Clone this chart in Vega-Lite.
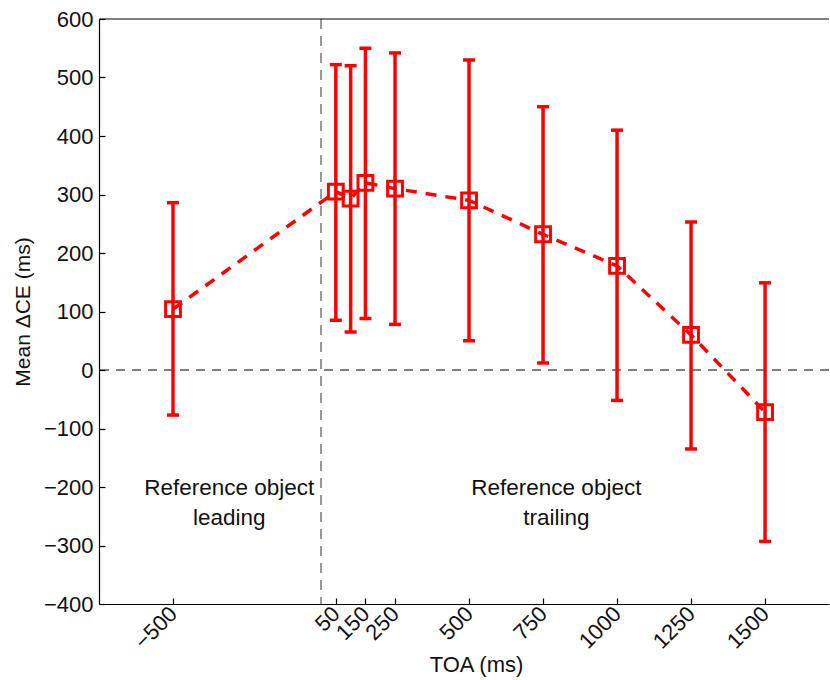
{
  "$schema": "https://vega.github.io/schema/vega-lite/v6.json",
  "autosize": "none",
  "width": 730,
  "height": 585,
  "padding": {"left": 99, "top": 19, "right": 1, "bottom": 76},
  "background": "white",
  "config": {
    "view": {"stroke": null},
    "font": "Liberation Sans",
    "axis": {"grid": false, "domainColor": "black", "tickColor": "black", "labelColor": "#111", "titleColor": "#111", "labelFont": "Liberation Sans", "titleFont": "Liberation Sans", "titleFontWeight": "normal", "domainWidth": 1.2, "tickWidth": 1.2, "labelFontSize": 22, "titleFontSize": 21}
  },
  "datasets": {
    "pts": [
      {"toa": -500, "m": 104, "lo": -77, "hi": 286},
      {"toa": 50, "m": 305, "lo": 85, "hi": 522},
      {"toa": 100, "m": 293, "lo": 65, "hi": 520},
      {"toa": 150, "m": 320, "lo": 88, "hi": 550},
      {"toa": 250, "m": 310, "lo": 78, "hi": 542},
      {"toa": 500, "m": 290, "lo": 50, "hi": 530},
      {"toa": 750, "m": 232, "lo": 12, "hi": 450},
      {"toa": 1000, "m": 178, "lo": -52, "hi": 410},
      {"toa": 1250, "m": 60, "lo": -135, "hi": 253},
      {"toa": 1500, "m": -72, "lo": -293, "hi": 149}
    ],
    "labels": [
      {"x": -310, "y": -201, "t": "Reference object"},
      {"x": -310, "y": -253, "t": "leading"},
      {"x": 795, "y": -201, "t": "Reference object"},
      {"x": 795, "y": -253, "t": "trailing"}
    ]
  },
  "layer": [
    {
      "data": {"values": [{"v": 0}]},
      "mark": {"type": "rule", "color": "black", "strokeWidth": 1.2, "strokeDash": [9, 7]},
      "encoding": {"y": {"field": "v", "type": "quantitative", "scale": {"domain": [-400, 600]}}}
    },
    {
      "data": {"values": [{"v": 0}]},
      "mark": {"type": "rule", "color": "#555", "strokeWidth": 1.2, "strokeDash": [10, 7]},
      "encoding": {"x": {"field": "v", "type": "quantitative", "scale": {"domain": [-750, 1716]}}}
    },
    {
      "data": {"values": [{"v": 600}]},
      "mark": {"type": "rule", "color": "black", "strokeWidth": 1.2},
      "encoding": {"y": {"field": "v", "type": "quantitative"}}
    },
    {
      "data": {"name": "pts"},
      "mark": {"type": "rule", "color": "#ff0000", "strokeWidth": 3.5},
      "encoding": {
        "x": {"field": "toa", "type": "quantitative"},
        "y": {"field": "lo", "type": "quantitative"},
        "y2": {"field": "hi"}
      }
    },
    {
      "data": {"name": "pts"},
      "mark": {"type": "tick", "color": "#ff0000", "orient": "horizontal", "size": 12, "thickness": 3.5, "opacity": 1},
      "encoding": {
        "x": {"field": "toa", "type": "quantitative"},
        "y": {"field": "lo", "type": "quantitative"}
      }
    },
    {
      "data": {"name": "pts"},
      "mark": {"type": "tick", "color": "#ff0000", "orient": "horizontal", "size": 12, "thickness": 3.5, "opacity": 1},
      "encoding": {
        "x": {"field": "toa", "type": "quantitative"},
        "y": {"field": "hi", "type": "quantitative"}
      }
    },
    {
      "data": {"name": "pts"},
      "mark": {"type": "line", "color": "#ff0000", "strokeWidth": 3.5, "strokeDash": [11, 9]},
      "encoding": {
        "x": {"field": "toa", "type": "quantitative"},
        "y": {"field": "m", "type": "quantitative"}
      }
    },
    {
      "data": {"name": "pts"},
      "mark": {"type": "point", "shape": "square", "filled": false, "color": "#ff0000", "size": 220, "strokeWidth": 3, "opacity": 1},
      "encoding": {
        "x": {
          "field": "toa", "type": "quantitative",
          "scale": {"domain": [-750, 1716], "nice": false, "zero": false},
          "axis": {"title": "TOA (ms)", "titleFontSize": 22, "titleX": 377, "values": [-500, 50, 150, 250, 500, 750, 1000, 1250, 1500], "format": "d", "labelOverlap": false, "labelAngle": -45, "labelAlign": "right", "labelBaseline": "middle", "tickSize": -6, "labelPadding": 12, "titlePadding": 2, "labelExpr": "replace(datum.label, '-', '\u2212')"}
        },
        "y": {
          "field": "m", "type": "quantitative",
          "scale": {"domain": [-400, 600], "nice": false, "zero": false},
          "axis": {"title": "Mean \u0394CE (ms)", "values": [-400, -300, -200, -100, 0, 100, 200, 300, 400, 500, 600], "format": "d", "tickSize": -6, "labelPadding": 12, "titlePadding": 10, "labelExpr": "replace(datum.label, '-', '\u2212')"}
        }
      }
    },
    {
      "data": {"name": "labels"},
      "mark": {"type": "text", "fontSize": 22.5, "color": "#111", "align": "center", "baseline": "middle", "font": "Liberation Sans"},
      "encoding": {
        "x": {"field": "x", "type": "quantitative"},
        "y": {"field": "y", "type": "quantitative"},
        "text": {"field": "t"}
      }
    }
  ]
}
